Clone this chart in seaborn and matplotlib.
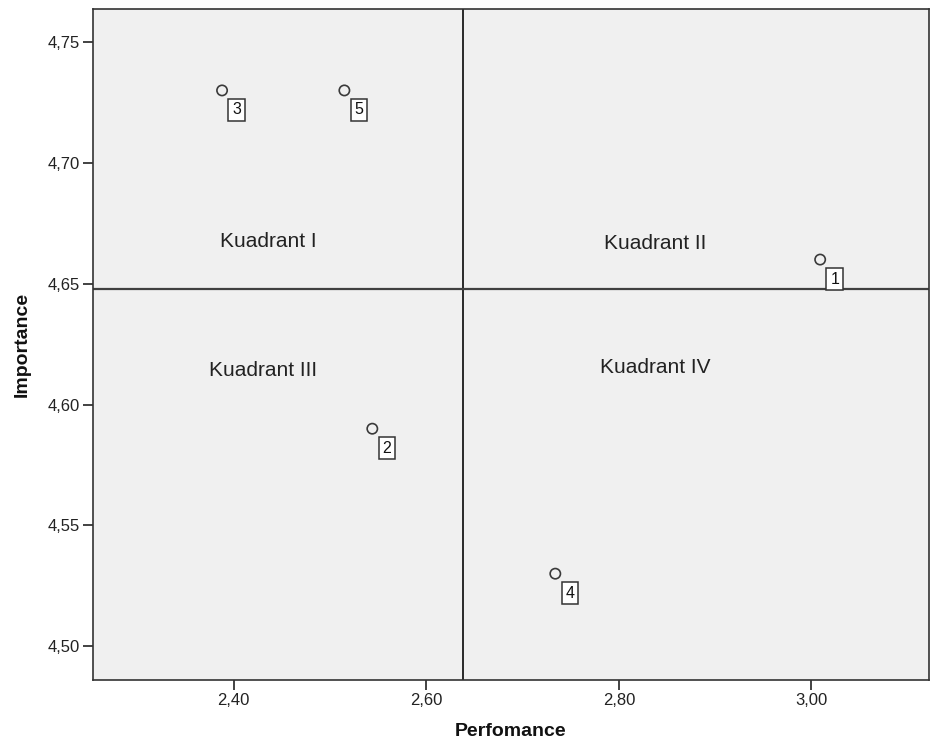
import matplotlib
matplotlib.use("Agg")
import matplotlib.pyplot as plt
import seaborn as sns
import pandas as pd

# data
labels = ["1", "2", "3", "4", "5"]
performance = [3.009, 2.544, 2.388, 2.734, 2.515]
importance = [4.66, 4.59, 4.73, 4.53, 4.73]
x_ticks = [2.40, 2.60, 2.80, 3.00]
y_ticks = [4.50, 4.55, 4.60, 4.65, 4.70, 4.75]
quadrant_names = ["Kuadrant I", "Kuadrant II", "Kuadrant III", "Kuadrant IV"]
quadrant_pos = [(2.436, 4.6675), (2.838, 4.6665), (2.431, 4.6140), (2.838, 4.6155)]

df = pd.DataFrame({"Perfomance": performance, "Importance": importance, "label": labels})

sns.set_style("ticks")
plt.rcParams["font.family"] = ["Liberation Sans", "DejaVu Sans"]

fig = plt.figure(figsize=(9.3, 7.49), dpi=100)
ax = fig.add_axes([93 / 930, 1 - 680 / 749, (929 - 93) / 930, (680 - 9) / 749])
ax.set_facecolor("#F0F0F0")

x_mean = sum(performance) / len(performance)
y_mean = sum(importance) / len(importance)
ax.axvline(x_mean, color="#1a1a1a", lw=1.3, zorder=1)
ax.axhline(y_mean, color="#404040", lw=1.6, zorder=1)

sns.scatterplot(data=df, x="Perfomance", y="Importance", ax=ax, marker="o",
                s=55, facecolor="none", edgecolor="#3a3a3a", linewidth=1.2, zorder=3)

for lab, xv, yv in zip(labels, performance, importance):
    ax.annotate(lab, (xv, yv), xytext=(10.5, -14), textcoords="offset points",
                ha="center", va="center", fontsize=11.5, color="#111111",
                bbox=dict(boxstyle="square,pad=0.24", fc="white", ec="#333333", lw=1.1),
                zorder=4)

for name, (qx, qy) in zip(quadrant_names, quadrant_pos):
    ax.text(qx, qy, name, ha="center", va="center", fontsize=15, color="#222222")

ax.set_xlim(2.254, 3.122)
ax.set_ylim(4.486, 4.7637)
ax.set_xticks(x_ticks)
ax.set_yticks(y_ticks)
ax.set_xticklabels([f"{v:.2f}".replace(".", ",") for v in x_ticks])
ax.set_yticklabels([f"{v:.2f}".replace(".", ",") for v in y_ticks])
ax.tick_params(axis="both", labelsize=12, colors="#222222", length=7, width=1.2, pad=2.5)
for sp in ax.spines.values():
    sp.set_color("#333333")
    sp.set_linewidth(1.2)
    sp.set_visible(True)

ax.set_xlabel("Perfomance", fontsize=14, fontweight="bold", color="#111111", labelpad=11)
ax.set_ylabel("Importance", fontsize=14, fontweight="bold", color="#111111", labelpad=12)

fig.savefig("out.png", dpi=100)
